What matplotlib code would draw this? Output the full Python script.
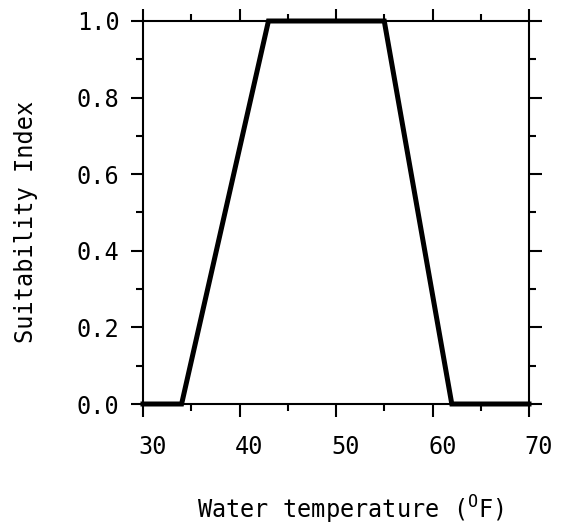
import matplotlib
matplotlib.use("Agg")
import matplotlib.pyplot as plt
import matplotlib.transforms as mtransforms
from matplotlib.ticker import MultipleLocator

temp_f = [30, 34, 43, 55, 62, 70]
suitability = [0.0, 0.0, 1.0, 1.0, 0.0, 0.0]
x_ticks = [30, 40, 50, 60, 70]
y_ticks = [0.0, 0.2, 0.4, 0.6, 0.8, 1.0]
y_tick_labels = ["0.0", "0.2", "0.4", "0.6", "0.8", "1.0"]

plt.rcParams['font.family'] = ['DejaVu Sans Mono']
plt.rcParams['mathtext.fontset'] = 'custom'
plt.rcParams['mathtext.rm'] = 'DejaVu Sans Mono'
plt.rcParams['mathtext.it'] = 'DejaVu Sans Mono'

fig = plt.figure(figsize=(5.7, 5.3), dpi=100)
ax = fig.add_axes([143/570, 1-404/530, (529-143)/570, (404-21)/530])
ax.plot(temp_f, suitability, color='black', linewidth=3.6, solid_joinstyle='miter', clip_on=False, zorder=3)
ax.set_xlim(30, 70)
ax.set_ylim(0, 1)
ax.set_xticks(x_ticks)
ax.set_yticks(y_ticks)
ax.set_yticklabels(y_tick_labels)
ax.xaxis.set_minor_locator(MultipleLocator(5))
ax.yaxis.set_minor_locator(MultipleLocator(0.1))
for s in ax.spines.values():
    s.set_linewidth(1.5)
ax.tick_params(which='both', direction='out', top=True, right=True, width=1.5, labelsize=17, colors='black')
ax.tick_params(which='major', length=9)
ax.tick_params(axis='x', which='major', pad=13)
ax.tick_params(axis='y', which='major', pad=8)
ax.tick_params(which='minor', length=5)
offset = mtransforms.ScaledTranslation(10/100, 0, fig.dpi_scale_trans)
for lbl in ax.get_xticklabels():
    lbl.set_transform(lbl.get_transform() + offset)
ax.set_xlabel(r'Water temperature ($^{\mathrm{O}}$F)', fontsize=17)
ax.xaxis.set_label_coords(0.536, -0.235)
ax.set_ylabel('Suitability Index', fontsize=17)
ax.yaxis.set_label_coords(-0.272, 0.475)
fig.savefig('out.png', dpi=100)
